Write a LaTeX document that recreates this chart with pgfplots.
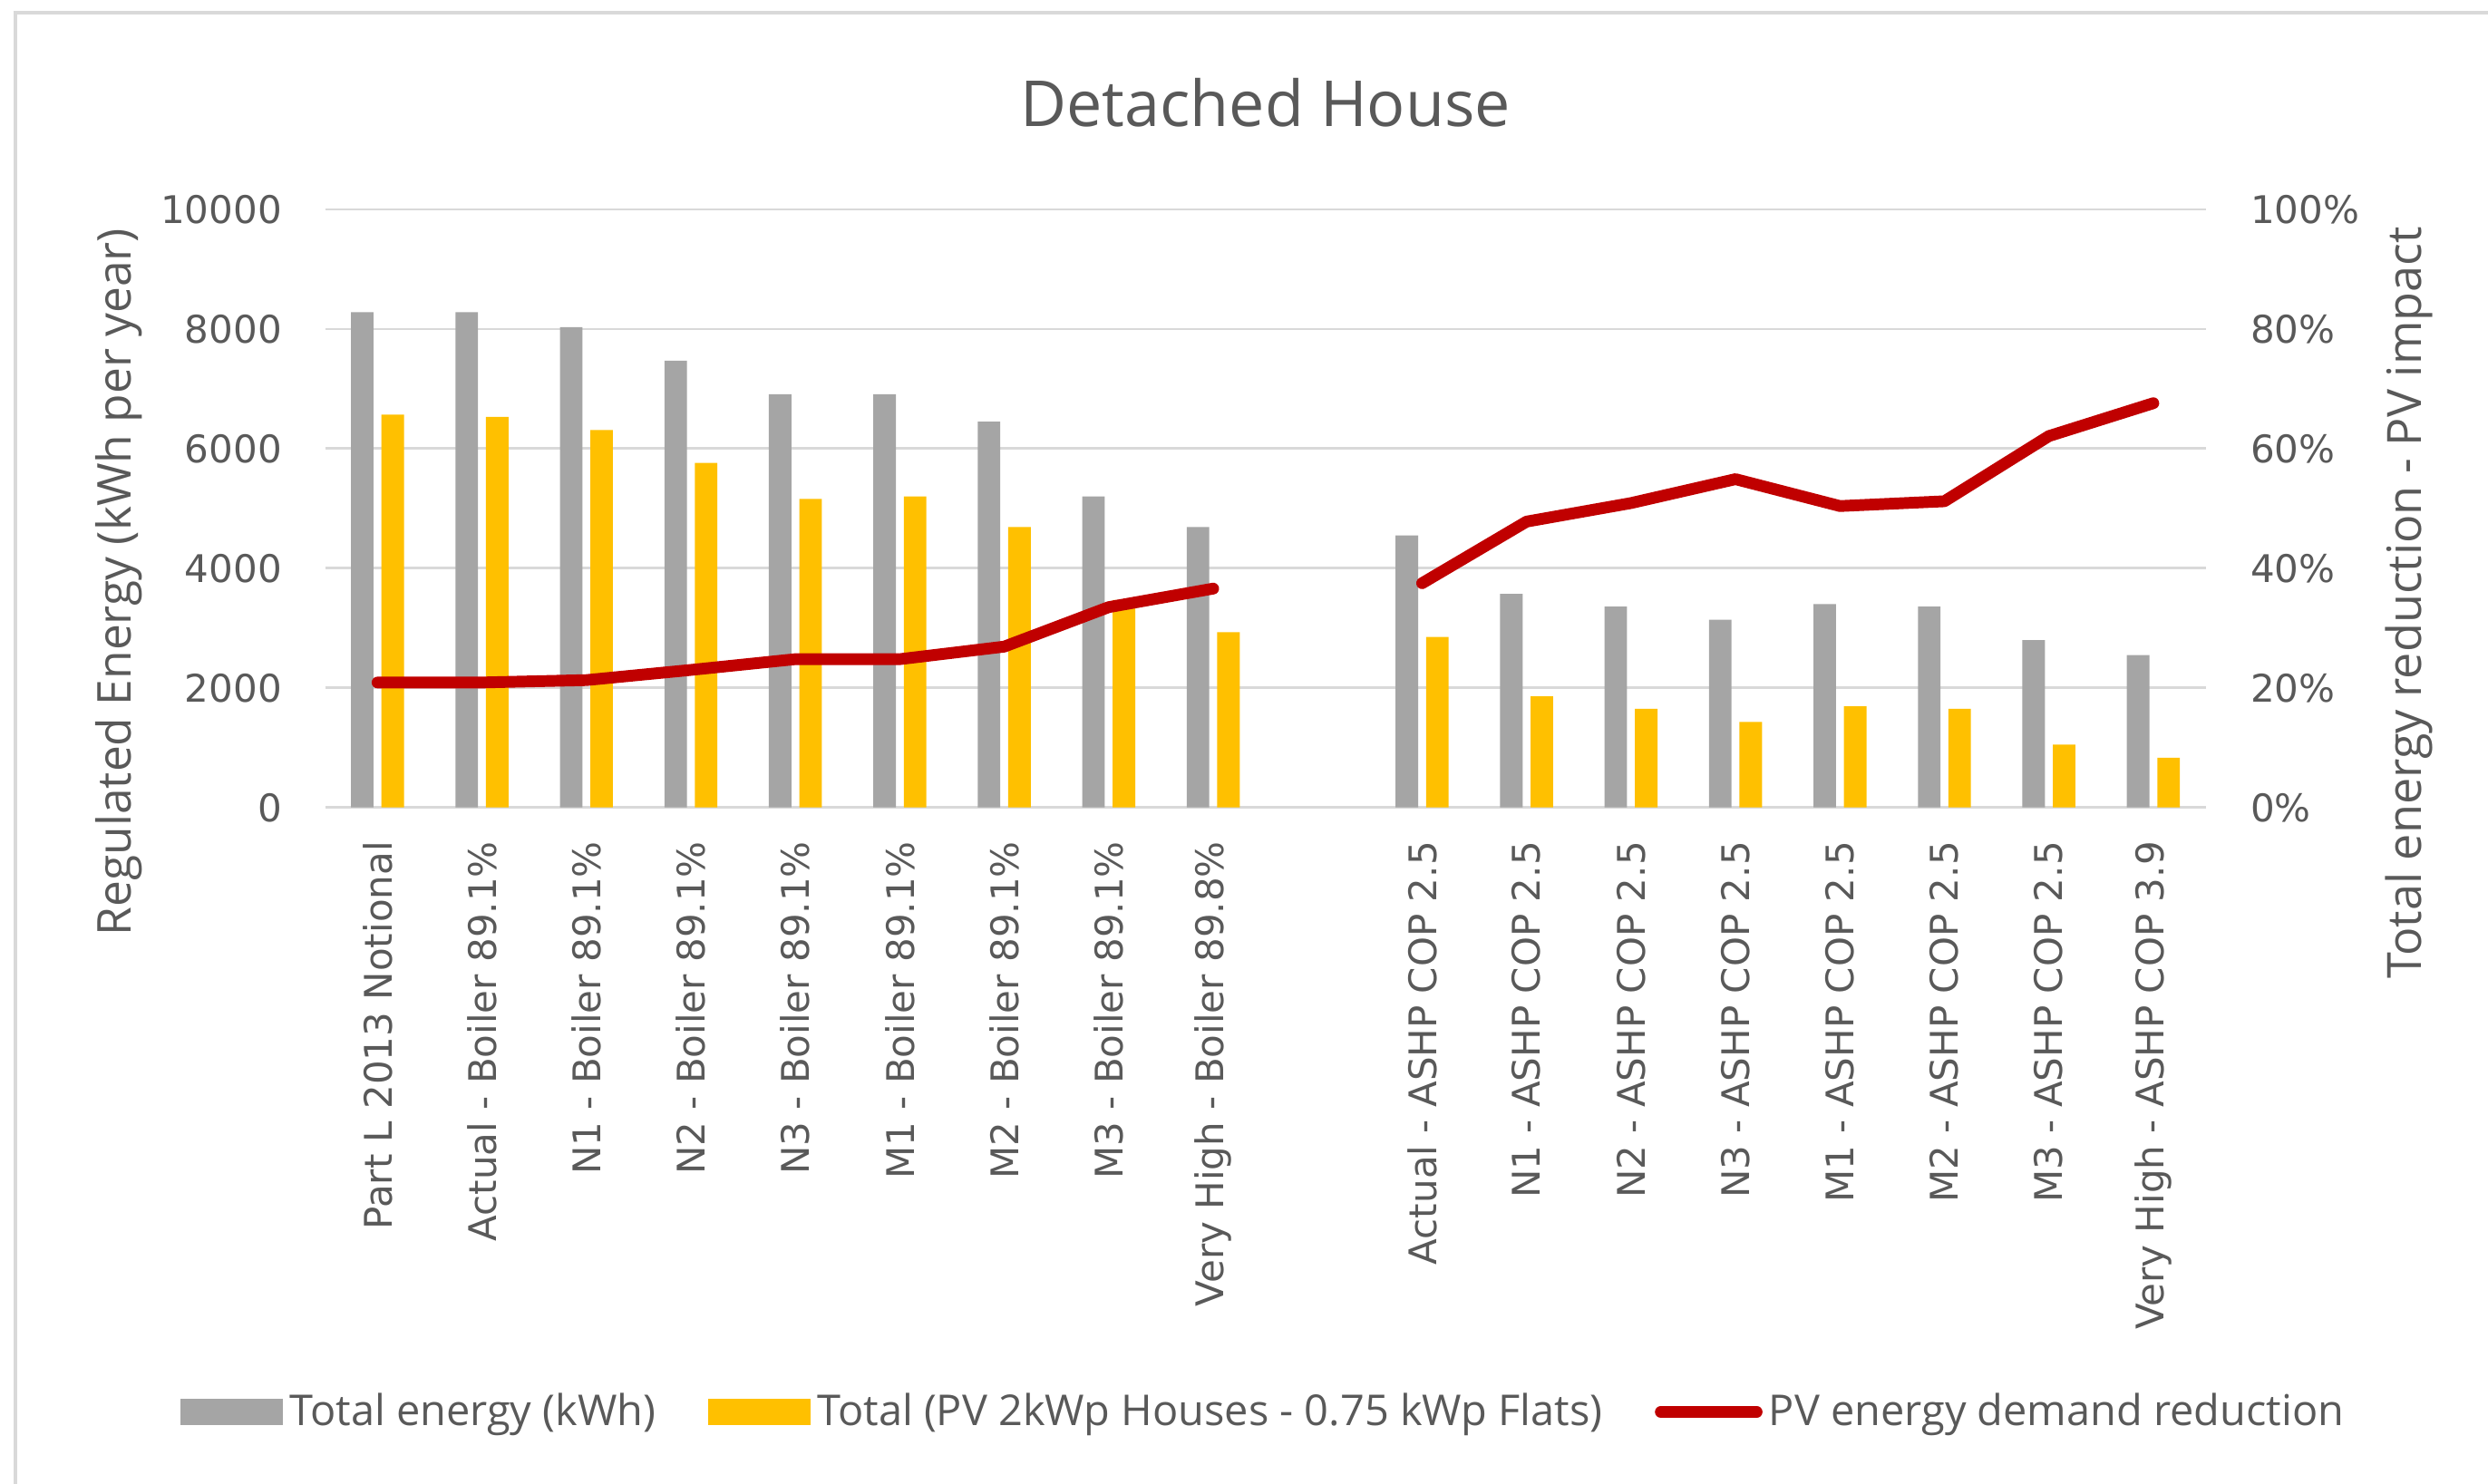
\documentclass[border=0pt]{standalone}
\usepackage{pgfplots}
\pgfplotsset{compat=1.18}
\usepackage{fontspec}
\setmainfont{Open Sans}
\newfontfamily\dejavu{DejaVu Sans}
\definecolor{txt}{HTML}{595959}
\definecolor{barGray}{HTML}{A5A5A5}
\definecolor{barYel}{HTML}{FFC000}
\definecolor{lineRed}{HTML}{C00000}
\definecolor{gridgray}{HTML}{D9D9D9}
\begin{document}
\begin{tikzpicture}
\useasboundingbox (-102.5pt,-213pt) rectangle (681.5pt,254.5pt);
\draw[color=gridgray, line width=1.15pt] (-97.6pt,-260pt) -- (-97.6pt,250.5pt) -- (720pt,250.5pt);
\begin{axis}[
  at={(0pt,0pt)}, anchor=south west,
  width=592.5pt, height=188.5pt, scale only axis,
  xmin=-0.5, xmax=17.5, ymin=0, ymax=10000,
  scaled y ticks=false,
  axis line style={draw=none}, tick style={draw=none},
  major tick length=0pt,
  ytick={0,2000,4000,6000,8000,10000},
  yticklabels={0,2000,4000,6000,8000,10000},
  ymajorgrids, grid style={color=gridgray, line width=0.8pt},
  xtick={0,1,2,3,4,5,6,7,8,10,11,12,13,14,15,16,17},
  xticklabels={Part L 2013 Notional, Actual - Boiler 89.1\%, N1 - Boiler 89.1\%, N2 - Boiler 89.1\%, N3 - Boiler 89.1\%, M1 - Boiler 89.1\%, M2 - Boiler 89.1\%, M3 - Boiler 89.1\%, Very High - Boiler 89.8\%, Actual - ASHP COP 2.5, N1 - ASHP COP 2.5, N2 - ASHP COP 2.5, N3 - ASHP COP 2.5, M1 - ASHP COP 2.5, M2 - ASHP COP 2.5, M3 - ASHP COP 2.5, Very High - ASHP COP 3.9},
  x tick label style={rotate=90, anchor=east, inner sep=0pt, font=\dejavu\fontsize{12}{14}\selectfont, text=txt},
  xticklabel shift=10.5pt,
  y tick label style={anchor=east, inner sep=0pt, font=\dejavu\fontsize{12}{14}\selectfont, text=txt},
  yticklabel shift=13.5pt,
  title={Detached House},
  title style={at={(axis description cs:0.5,1)}, anchor=center, yshift=27.5pt, font=\fontsize{20}{23}\selectfont, text=txt},
  ylabel={Regulated Energy (kWh per year)},
  ylabel style={at={(axis description cs:-0.1097,0.377)}, anchor=center, font=\fontsize{14.7}{17}\selectfont, text=txt},
]
\addplot[ybar, bar width=7.1pt, bar shift=-4.8pt, fill=barGray, draw=none] coordinates {
(0,8280) (1,8280) (2,8030) (3,7470) (4,6910) (5,6910) (6,6450) (7,5200) (8,4690)
(10,4550) (11,3570) (12,3360) (13,3140) (14,3400) (15,3360) (16,2800) (17,2550)};
\addplot[ybar, bar width=7.1pt, bar shift=4.8pt, fill=barYel, draw=none] coordinates {
(0,6570) (1,6530) (2,6310) (3,5760) (4,5160) (5,5200) (6,4690) (7,3470) (8,2930)
(10,2850) (11,1860) (12,1650) (13,1430) (14,1690) (15,1650) (16,1050) (17,830)};
\end{axis}
\begin{axis}[
  at={(0pt,0pt)}, anchor=south west,
  width=592.5pt, height=188.5pt, scale only axis,
  xmin=-0.5, xmax=17.5, ymin=0, ymax=1,
  axis y line*=right, axis x line=none,
  axis line style={draw=none}, tick style={draw=none},
  major tick length=0pt,
  ytick={0,0.2,0.4,0.6,0.8,1},
  yticklabels={0\%,20\%,40\%,60\%,80\%,100\%},
  y tick label style={anchor=west, inner sep=0pt, font=\dejavu\fontsize{12}{14}\selectfont, text=txt},
  yticklabel shift=14pt,
  ylabel={Total energy reduction - PV impact},
  ylabel style={at={(axis description cs:1.108,0.342)}, anchor=center, rotate=0, font=\fontsize{14.9}{17}\selectfont, text=txt},
  legend style={at={(axis description cs:0.5,-1.0106)}, anchor=center, draw=none, fill=none, legend columns=-1,
    font=\fontsize{13.4}{16}\selectfont, text=txt,
    /tikz/every even column/.append style={column sep=14.5pt}},
  legend cell align=left,
]
\addlegendimage{legend image code/.code={\fill[barGray] (0pt,-4pt) rectangle (32pt,4pt);}}
\addlegendentry{Total energy (kWh)}
\addlegendimage{legend image code/.code={\fill[barYel] (0pt,-4pt) rectangle (32pt,4pt);}}
\addlegendentry{Total (PV 2kWp Houses - 0.75 kWp Flats)}
\addplot[color=lineRed, line width=3.7pt, line cap=round, line join=round, unbounded coords=jump,
  legend image code/.code={\draw[lineRed, line width=3.7pt, line cap=round] (1.8pt,0pt) -- (32pt,0pt);}]
  coordinates {
(0,0.209) (1,0.209) (2,0.213) (3,0.230) (4,0.248) (5,0.248) (6,0.269) (7,0.335) (8,0.366)
(9,nan)
(10,0.375) (11,0.478) (12,0.509) (13,0.549) (14,0.504) (15,0.512) (16,0.621) (17,0.676)};
\addlegendentry{PV energy demand reduction}
\end{axis}
\end{tikzpicture}
\end{document}
